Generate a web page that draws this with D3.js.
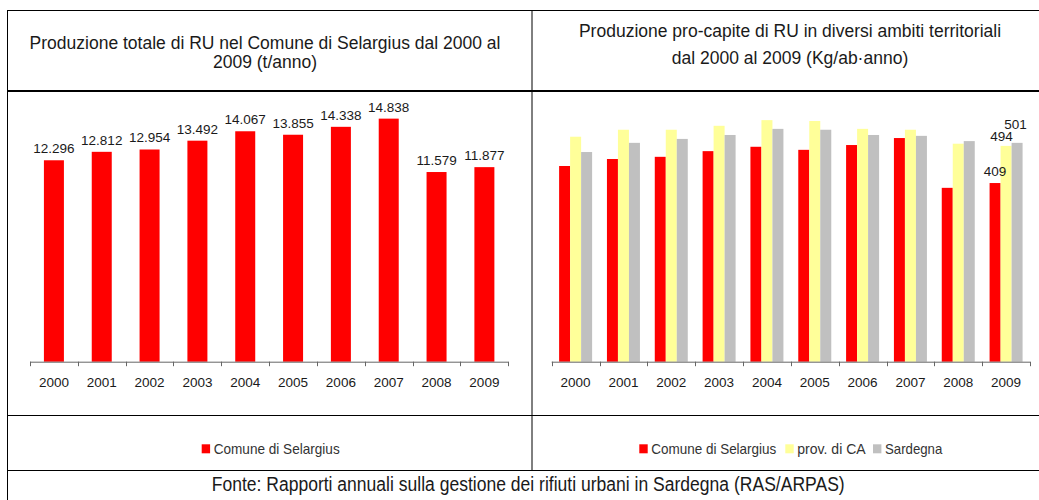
<!DOCTYPE html>
<html>
<head>
<meta charset="utf-8">
<script src="https://cdn.jsdelivr.net/npm/d3@7"></script>
<style>
  html, body { margin: 0; padding: 0; background: #fff; }
  svg { display: block; font-family: "Liberation Sans", Arial, Helvetica, sans-serif; }
</style>
</head>
<body>
<svg id="chart" width="1039" height="500"></svg>
<script>
// ---------- DATA ----------
const years = ["2000","2001","2002","2003","2004","2005","2006","2007","2008","2009"];
const totalSelargius = [12296, 12812, 12954, 13492, 14067, 13855, 14338, 14838, 11579, 11877];
const totalLabels = ["12.296","12.812","12.954","13.492","14.067","13.855","14.338","14.838","11.579","11.877"];
const pcSelargius = [448, 464, 469, 482, 492, 485, 496, 512, 398, 409];
const pcProvCA    = [515, 531, 531, 540, 553, 551, 533, 531, 499, 494];
const pcSardegna  = [480, 501, 510, 519, 533, 531, 519, 517, 505, 501];
const seriesNames = ["Comune di Selargius", "prov. di CA", "Sardegna"];
const seriesColors = ["#FF0000", "#FFFF99", "#C0C0C0"];
const titleLeft = ["Produzione totale di RU nel Comune di Selargius dal 2000 al", "2009 (t/anno)"];
const titleRight = ["Produzione pro-capite di RU in diversi ambiti territoriali", "dal 2000 al 2009 (Kg/ab\u00B7anno)"];
const footerText = "Fonte: Rapporti annuali sulla gestione dei rifiuti urbani in Sardegna (RAS/ARPAS)";

// ---------- LAYOUT ----------
const svg = d3.select("#chart");
const baseY = 361.7, topY = 99.6;
const textColor = "#1a1a1a";

// table grid
const grid = svg.append("g").attr("stroke", "#000").attr("fill", "none");
grid.append("line").attr("x1", 7).attr("x2", 1039).attr("y1", 10.5).attr("y2", 10.5).attr("stroke-width", 1);
grid.append("line").attr("x1", 7.5).attr("x2", 7.5).attr("y1", 10).attr("y2", 500).attr("stroke-width", 1);
grid.append("line").attr("x1", 7).attr("x2", 1039).attr("y1", 91).attr("y2", 91).attr("stroke-width", 2);
grid.append("line").attr("x1", 532).attr("x2", 532).attr("y1", 10).attr("y2", 470).attr("stroke-width", 1);
grid.append("line").attr("x1", 7).attr("x2", 1039).attr("y1", 415.5).attr("y2", 415.5).attr("stroke-width", 1);
grid.append("line").attr("x1", 7).attr("x2", 1039).attr("y1", 470.5).attr("y2", 470.5).attr("stroke-width", 1);

// titles
function title(lines, cx, ys) {
  lines.forEach((t, i) => {
    svg.append("text").attr("x", cx).attr("y", ys[i]).attr("text-anchor", "middle")
      .attr("font-size", 17.5).attr("fill", textColor).text(t);
  });
}
title(titleLeft, 265, [49, 68.3]);
title(titleRight, 790, [36.8, 63.5]);

// axis helper
function drawAxis(x) {
  const g = svg.append("g");
  const [r0, r1] = x.range();
  g.append("line").attr("x1", r0).attr("x2", r1).attr("y1", baseY + 0.5).attr("y2", baseY + 0.5)
    .attr("stroke", "#666").attr("stroke-width", 1);
  const bounds = x.domain().map(d => x(d)).concat([r1]);
  g.selectAll("line.tick").data(bounds).join("line").attr("class", "tick")
    .attr("x1", d => Math.round(d) + 0.5).attr("x2", d => Math.round(d) + 0.5)
    .attr("y1", baseY).attr("y2", baseY + 4.5).attr("stroke", "#666");
  g.selectAll("text").data(x.domain()).join("text")
    .attr("x", d => x(d) + x.bandwidth() / 2).attr("y", baseY + 24.8)
    .attr("text-anchor", "middle").attr("font-size", 13.5).attr("fill", textColor).text(d => d);
}

// ---------- LEFT CHART ----------
const xL = d3.scaleBand().domain(years).range([30, 508.3]).padding(0);
const yL = d3.scaleLinear().domain([0, 16000]).range([baseY, topY]);
const barW = 20;
svg.append("g").selectAll("rect").data(totalSelargius).join("rect")
  .attr("x", (d, i) => xL(years[i]) + xL.bandwidth() / 2 - barW / 2)
  .attr("y", d => yL(d)).attr("width", barW).attr("height", d => baseY - yL(d))
  .attr("fill", seriesColors[0]);
svg.append("g").selectAll("text").data(totalSelargius).join("text")
  .attr("x", (d, i) => xL(years[i]) + xL.bandwidth() / 2)
  .attr("y", d => yL(d) - 7).attr("text-anchor", "middle")
  .attr("font-size", 13.5).attr("fill", textColor).text((d, i) => totalLabels[i]);
drawAxis(xL);

// ---------- RIGHT CHART ----------
const xR = d3.scaleBand().domain(years).range([551.7, 1030]).padding(0);
const yR = d3.scaleLinear().domain([0, 600]).range([baseY, topY]);
const sub = d3.scaleBand().domain([0, 1, 2]).range([0, 33]);
const pcSeries = [pcSelargius, pcProvCA, pcSardegna];
pcSeries.forEach((vals, s) => {
  svg.append("g").selectAll("rect").data(vals).join("rect")
    .attr("x", (d, i) => xR(years[i]) + xR.bandwidth() / 2 - 16.5 + sub(s))
    .attr("y", d => yR(d)).attr("width", sub.bandwidth()).attr("height", d => baseY - yR(d))
    .attr("fill", seriesColors[s]);
});
// data labels for the last year (nudged to avoid overlap, as in the original)
const labelNudges = [{dx: 0, dy: -7}, {dx: -4.5, dy: -5}, {dx: -1.5, dy: -13.5}];
const last = years.length - 1;
pcSeries.forEach((vals, s) => {
  svg.append("text")
    .attr("x", xR(years[last]) + xR.bandwidth() / 2 - 16.5 + sub(s) + sub.bandwidth() / 2 + labelNudges[s].dx)
    .attr("y", yR(vals[last]) + labelNudges[s].dy)
    .attr("text-anchor", "middle").attr("font-size", 13.5).attr("fill", textColor)
    .text(vals[last]);
});
drawAxis(xR);

// ---------- LEGENDS ----------
function legend(items, startX) {
  let x = startX;
  items.forEach(it => {
    svg.append("rect").attr("x", x).attr("y", 444.3).attr("width", 8.4).attr("height", 9)
      .attr("fill", seriesColors[it.s]);
    svg.append("text").attr("x", x + 12).attr("y", 454).attr("font-size", 14.5)
      .attr("fill", "#333").attr("textLength", it.w).attr("lengthAdjust", "spacingAndGlyphs")
      .text(seriesNames[it.s]);
    x += 12 + it.w + it.gap;
  });
}
legend([{s: 0, w: 126, gap: 0}], 201.7);
legend([{s: 0, w: 125, gap: 9}, {s: 1, w: 68.4, gap: 7.3}, {s: 2, w: 57.3, gap: 0}], 639.3);

// ---------- FOOTER ----------
svg.append("text").attr("x", 211.7).attr("y", 491).attr("font-size", 19.5).attr("fill", textColor)
  .attr("textLength", 633).attr("lengthAdjust", "spacingAndGlyphs").text(footerText);
</script>
</body>
</html>
